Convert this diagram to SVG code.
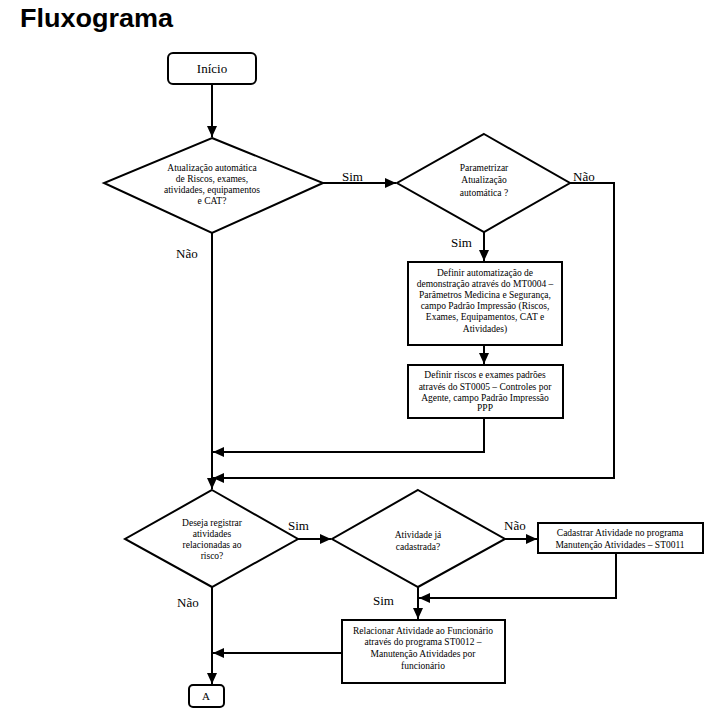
<svg xmlns="http://www.w3.org/2000/svg" width="707" height="717" viewBox="0 0 707 717" font-family="Liberation Serif">
<defs>
<marker id="ah" markerUnits="userSpaceOnUse" markerWidth="12" markerHeight="10" refX="11" refY="5" orient="auto">
<path d="M0,0 L11,5 L0,10 z" fill="#000"/>
</marker>
</defs>
<style>
.s{fill:#fff;stroke:#000;stroke-width:2}
.c{fill:none;stroke:#000;stroke-width:2}
.t{font-size:9.5px;text-anchor:middle;fill:#000}
.l{font-size:13px;fill:#000}
.title{font-size:25px;font-weight:bold;fill:#000}
</style>
<rect width="707" height="717" fill="#fff"/>
<text class="title" font-family="Liberation Sans" x="20" y="27" textLength="153" lengthAdjust="spacingAndGlyphs">Fluxograma</text>

<g id="connectors" font-family="Liberation Serif">
<path class="c" d="M212,84 V137" marker-end="url(#ah)"/>
<path class="c" d="M323,183 H396" marker-end="url(#ah)"/>
<path class="c" d="M484,232 V261" marker-end="url(#ah)"/>
<path class="c" d="M484,345 V364" marker-end="url(#ah)"/>
<path class="c" d="M570,183 H614 V478 H213" marker-end="url(#ah)"/>
<path class="c" d="M484,418 V452 H213" marker-end="url(#ah)"/>
<path class="c" d="M212,233 V489" marker-end="url(#ah)"/>
<path class="c" d="M298,539 H331" marker-end="url(#ah)"/>
<path class="c" d="M505,539 H537" marker-end="url(#ah)"/>
<path class="c" d="M616,553 V598 H419" marker-end="url(#ah)"/>
<path class="c" d="M418,587 V619" marker-end="url(#ah)"/>
<path class="c" d="M342,653 H213" marker-end="url(#ah)"/>
<path class="c" d="M212,587 V684" marker-end="url(#ah)"/>
<text class="l" x="342" y="181">Sim</text>
<text class="l" x="573" y="181">Não</text>
<text class="l" x="451" y="247">Sim</text>
<text class="l" x="176" y="258">Não</text>
<text class="l" x="288" y="530">Sim</text>
<text class="l" x="504" y="530">Não</text>
<text class="l" x="373" y="605">Sim</text>
<text class="l" x="177" y="607">Não</text>
</g>

<g id="inicio" font-family="Liberation Serif">
<rect class="s" x="168" y="53" width="88" height="31" rx="5"/>
<text class="l" x="212" y="73" text-anchor="middle">Início</text>
</g>

<g id="d1" font-family="Liberation Serif">
<polygon class="s" points="212,138 323,183 212,233 104,183"/>
<text class="t" x="212" y="171">Atualização automática</text>
<text class="t" x="212" y="182">de Riscos, exames,</text>
<text class="t" x="212" y="193">atividades, equipamentos</text>
<text class="t" x="212" y="204">e CAT?</text>
</g>

<g id="d2" font-family="Liberation Serif">
<polygon class="s" points="484,134 570,183 484,232 397,183"/>
<text class="t" x="484" y="171">Parametrizar</text>
<text class="t" x="484" y="183">Atualização</text>
<text class="t" x="484" y="196">automática ?</text>
</g>

<g id="b1" font-family="Liberation Serif">
<rect class="s" x="408" y="262" width="154" height="83"/>
<text class="t" x="485" y="276">Definir automatização de</text>
<text class="t" x="485" y="287">demonstração através do MT0004 –</text>
<text class="t" x="485" y="298">Parâmetros Medicina e Segurança,</text>
<text class="t" x="485" y="309">campo Padrão Impressão (Riscos,</text>
<text class="t" x="485" y="320">Exames, Equipamentos, CAT e</text>
<text class="t" x="485" y="332">Atividades)</text>
</g>

<g id="b2" font-family="Liberation Serif">
<rect class="s" x="408" y="365" width="155" height="53"/>
<text class="t" x="485" y="378">Definir riscos e exames padrões</text>
<text class="t" x="485" y="390">através do ST0005 – Controles por</text>
<text class="t" x="485" y="401">Agente, campo Padrão Impressão</text>
<text class="t" x="485" y="411">PPP</text>
</g>

<g id="d3" font-family="Liberation Serif">
<polygon class="s" points="212,490 298,539 212,587 125,539"/>
<text class="t" x="212" y="526">Deseja registrar</text>
<text class="t" x="212" y="537">atividades</text>
<text class="t" x="212" y="548">relacionadas ao</text>
<text class="t" x="212" y="559">risco?</text>
</g>

<g id="d4" font-family="Liberation Serif">
<polygon class="s" points="418,490 505,539 418,587 332,539"/>
<text class="t" x="418" y="538">Atividade já</text>
<text class="t" x="418" y="550">cadastrada?</text>
</g>

<g id="b3" font-family="Liberation Serif">
<rect class="s" x="538" y="523" width="165" height="30"/>
<text class="t" x="620" y="536">Cadastrar Atividade no programa</text>
<text class="t" x="620" y="548">Manutenção Atividades – ST0011</text>
</g>

<g id="b4" font-family="Liberation Serif">
<rect class="s" x="342" y="620" width="163" height="63"/>
<text class="t" x="423" y="634">Relacionar Atividade ao Funcionário</text>
<text class="t" x="423" y="645">através do programa ST0012 –</text>
<text class="t" x="423" y="657">Manutenção Atividades por</text>
<text class="t" x="423" y="669">funcionário</text>
</g>

<g id="a" font-family="Liberation Serif">
<rect class="s" x="189" y="685" width="35" height="22" rx="4"/>
<text class="t" x="206" y="700" style="font-size:11px">A</text>
</g>
</svg>
